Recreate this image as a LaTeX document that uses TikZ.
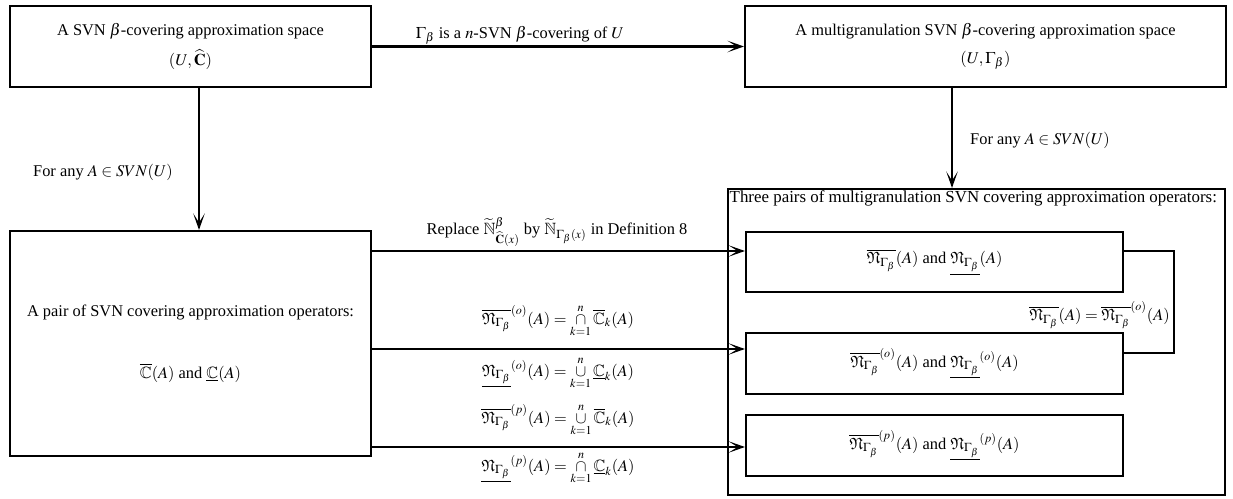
\documentclass[tikz,border=0pt]{standalone}
\usepackage{amssymb}
\usepackage{mathptmx}
\usepackage{fontspec}
\setmainfont{Liberation Serif}
\usetikzlibrary{arrows.meta}

\newcommand{\pxu}{0.61pt}
\newcommand{\Nfr}{\mathfrak{N}_{\Gamma_\beta}}
\newcommand{\upN}[1]{\overline{\Nfr}^{#1}}
\newcommand{\loN}[1]{\underline{\Nfr}^{#1}}
\newcommand{\capk}{\mathop{\cap}\limits_{k=1}^{n}}
\newcommand{\cupk}{\mathop{\cup}\limits_{k=1}^{n}}

\begin{document}
\begin{tikzpicture}[x=\pxu, y=-\pxu,
    box/.style={draw, line width=1.3pt, inner sep=0pt, align=center},
    arr/.style={line width=1.3pt, -{Stealth[length=10pt,width=7pt,inset=5.5pt]}},
    lab/.style={inner sep=0pt, align=center}]
    \useasboundingbox (0,0) rectangle (1233,499);

    % upper row
    \node[box, minimum width=361*\pxu, minimum height=81*\pxu] (space) at (190.5,46.5)
        {A SVN $\beta$-covering approximation space\\[5pt] $(U,\widehat{\mathbf{C}})$};
    \node[box, minimum width=481*\pxu, minimum height=81*\pxu] (mspace) at (985.5,46.5)
        {A multigranulation SVN $\beta$-covering approximation space\\[5pt] $(U,\Gamma_\beta)$};
    \draw[arr] (space.east) -- (mspace.west);
    \node[lab] (cover) at (520,35) {$\Gamma_\beta$ is a $n$-SVN $\beta$-covering of $U$};

    % lower left
    \node[box, minimum width=361*\pxu, minimum height=225*\pxu] (pair) at (190.5,343.5)
        {A pair of SVN covering approximation operators:\\[26pt]
         $\overline{\mathbb{C}}(A)$ and $\underline{\mathbb{C}}(A)$};
    \coordinate (lx) at (199,0);
    \draw[arr] (space.south -| lx) -- (pair.north -| lx);
    \node[lab] (anyl) at (103,172) {For any $A\in SVN(U)$};

    % lower right
    \node[box, minimum width=497*\pxu, minimum height=306*\pxu] (three) at (976.5,342) {};
    \node[anchor=north west, inner sep=1.5pt, font=\fontsize{10.3}{12}\selectfont] (title) at (three.north west)
        {Three pairs of multigranulation SVN covering approximation operators:};
    \coordinate (rx) at (952,0);
    \draw[arr] (mspace.south -| rx) -- (three.north -| rx);
    \node[lab] (anyr) at (1040,140) {For any $A\in SVN(U)$};

    \node[box, minimum width=377*\pxu, minimum height=60*\pxu] (pA) at (934.5,262)
        {$\overline{\Nfr}(A)$ and $\underline{\Nfr}(A)$};
    \node[box, minimum width=377*\pxu, minimum height=61*\pxu] (pB) at (934.5,363.5)
        {$\upN{(o)}(A)$ and $\loN{(o)}(A)$};
    \node[box, minimum width=377*\pxu, minimum height=61*\pxu] (pC) at (934.5,445.5)
        {$\upN{(p)}(A)$ and $\loN{(p)}(A)$};

    \foreach \y/\t in {251/pA, 349/pB, 447/pC}
        \draw[arr] (pair.east |- 0,\y) -- (\t.west |- 0,\y);

    \coordinate (br) at (1174,0);
    \draw[line width=1.3pt] (pA.east |- 0,251) -- (br |- 0,251) -- (br |- 0,353) -- (pB.east |- 0,353);
    \node[lab, anchor=east] (same) at (1170,315) {$\overline{\Nfr}(A)=\upN{(o)}(A)$};

    % labels of the three arrows
    \node[lab] (repl) at (557,232)
        {Replace $\widetilde{\mathbb{N}}^{\beta}_{\widehat{\mathbf{C}}(x)}$ by $\widetilde{\mathbb{N}}_{\Gamma_\beta(x)}$ in Definition 8};
    \node[lab] (oup) at (558,321) {$\upN{(o)}(A)=\capk\overline{\mathbb{C}}_k(A)$};
    \node[lab] (olo) at (558,373) {$\loN{(o)}(A)=\cupk\underline{\mathbb{C}}_k(A)$};
    \node[lab] (pup) at (558,420) {$\upN{(p)}(A)=\cupk\overline{\mathbb{C}}_k(A)$};
    \node[lab] (plo) at (558,468) {$\loN{(p)}(A)=\capk\underline{\mathbb{C}}_k(A)$};
\end{tikzpicture}
\end{document}
